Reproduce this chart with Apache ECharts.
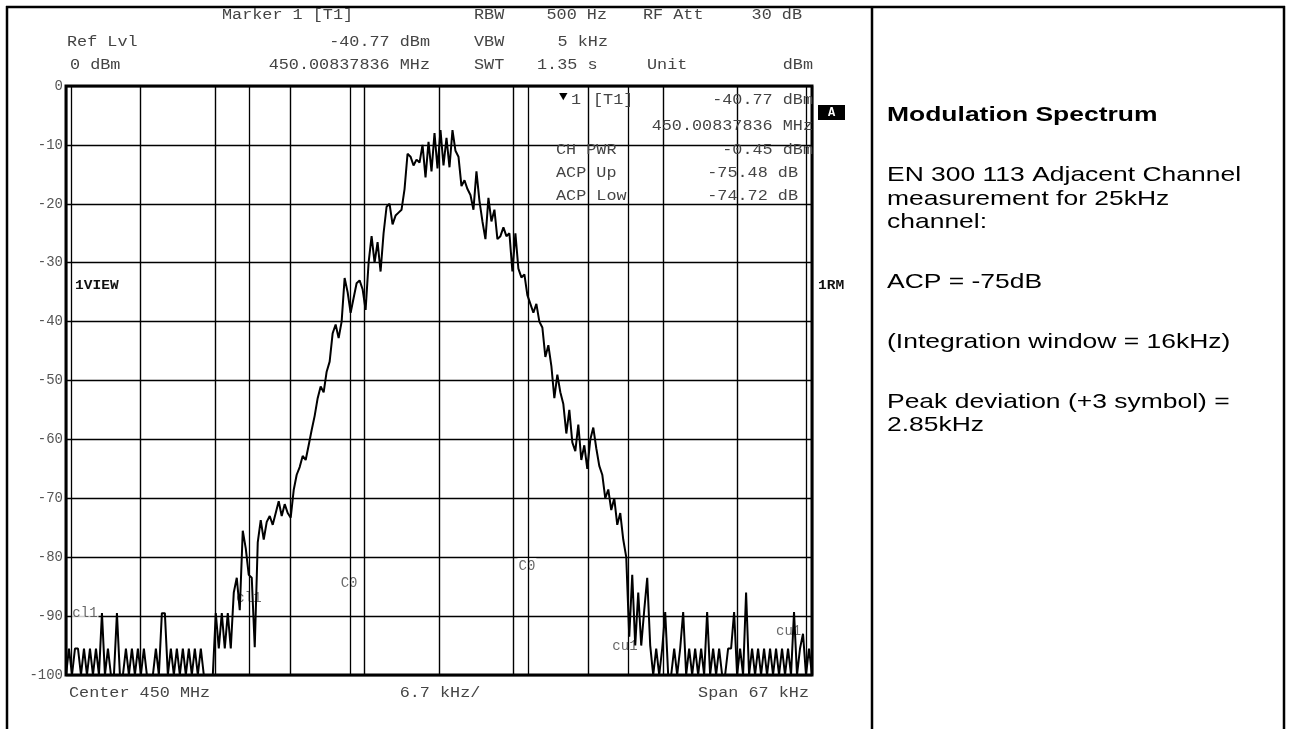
<!DOCTYPE html>
<html>
<head>
<meta charset="utf-8">
<script src="https://cdn.jsdelivr.net/npm/echarts@6/dist/echarts.min.js"></script>
<style>
  html, body { margin: 0; padding: 0; background: #fff; }
  #chart { width: 1290px; height: 729px; }
</style>
</head>
<body>
<div id="chart"></div>
<script>
// sweep of the analyser: 250 points over a 67 kHz span around 450 MHz (offsets in kHz)
const sweepStart = -33.5;
const sweepSpan = 67;
const levels = [
  -100, -95.5, -100, -95.5, -95.5, -100, -95.5, -100, -95.5, -100,
  -95.5, -100, -89.5, -100, -95.5, -100, -100, -89.5, -100, -100,
  -95.5, -100, -95.5, -100, -95.5, -100, -95.5, -100, -100, -100,
  -95.5, -100, -89.5, -89.5, -100, -95.5, -100, -95.5, -100, -95.5,
  -100, -95.5, -100, -95.5, -100, -95.5, -100, -100, -100, -100,
  -89.5, -95.5, -89.5, -95.5, -89.5, -95.5, -86, -83.5, -89, -75.5,
  -78.5, -83, -83.5, -95.3, -77.5, -73.7, -77, -74, -73, -74.5,
  -72.5, -70.5, -73, -71, -72.5, -73.3, -68.6, -66, -64.7, -62.8,
  -63.5, -61, -58.4, -56, -53, -51, -52, -48.5, -46.8, -42,
  -40.5, -42.8, -40, -32.6, -35, -38.5, -36, -33.5, -33, -34.5,
  -38, -30, -25.5, -30, -26.5, -31.5, -25, -20.5, -20, -23.5,
  -22, -21.5, -21, -17.5, -11.5, -12, -13.5, -12.5, -13, -10,
  -15.5, -9.5, -14.5, -8, -14, -7.5, -13.5, -8.8, -13.8, -7.5,
  -11, -12, -17, -16, -17.5, -18.5, -21, -14.5, -19.5, -23,
  -26, -19, -23, -21, -26, -25.5, -24, -25.5, -25, -31.5,
  -25, -31, -32.5, -32, -35.5, -37, -38.5, -37, -40, -41,
  -46, -44, -47.5, -53, -49, -52, -54, -59, -55, -60.5,
  -62, -57.5, -63.5, -61, -65, -60, -58, -61.5, -64.5, -66,
  -70, -68.5, -72, -70, -74.5, -72.5, -77, -80, -93.5, -83,
  -95, -86, -95, -89, -83.5, -95, -100, -95.5, -100, -95.5,
  -89.3, -100, -100, -95.5, -100, -95.5, -89.3, -100, -95.5, -100,
  -95.5, -100, -95.5, -100, -89.3, -100, -95.5, -100, -95.5, -100,
  -100, -95.5, -95.5, -89.3, -100, -95.5, -100, -86, -100, -95.5,
  -100, -95.5, -100, -95.5, -100, -95.5, -100, -95.5, -100, -95.5,
  -100, -95.5, -100, -89.3, -100, -95.5, -93, -100, -95.5, -100
];

// ACP channel limits (kHz): lower adjacent, main, upper adjacent
const channelEdges = [-33, -17, -8, 8, 17, 33];
const channelTags = [
  [-31.8, -89.6, 'cl1'], [-17.07, -86.9, 'cl1'],
  [-8.08, -84.4, 'C0'], [7.9, -81.5, 'C0'],
  [16.7, -95.2, 'cu1'], [31.4, -92.5, 'cu1']
];

const levelMin = -100, levelMax = 0, levelStep = 10;
const divStep = 6.7;

const trace = levels.map((v, i) => [sweepStart + i * sweepSpan / (levels.length - 1), v]);

const MONO = '"Liberation Mono", "DejaVu Sans Mono", monospace';
const SANS = '"Liberation Sans", Arial, sans-serif';

// helper for instrument style text (slightly stretched like the screen dump)
function txt(x, y, s, align, opts) {
  opts = opts || {};
  return {
    type: 'text', x: x, y: y, z: 10,
    scaleX: opts.sx || 1.2,
    style: {
      text: s,
      font: opts.font || ('14px ' + MONO),
      fill: opts.fill || '#444',
      textAlign: align, align: align,
      textVerticalAlign: 'middle', verticalAlign: 'middle'
    }
  };
}
function line(x1, y1, x2, y2, w) {
  return { type: 'line', z: 10, shape: { x1, y1, x2, y2 }, style: { stroke: '#000', lineWidth: w || 2 } };
}
const note = (y, s, bold) =>
  txt(887, y, s, 'left', { fill: '#000', font: (bold ? 'bold ' : '') + '21px ' + SANS, sx: 1.26 });

const chart = echarts.init(document.getElementById('chart'));

const graphics = [
  // table frame
  line(6, 7, 1285, 7, 2.5),
  line(7, 6, 7, 729, 2.5),
  line(872, 6, 872, 729, 2.5),
  line(1284, 6, 1284, 729, 2.5),

  // header
  txt(222, 15, 'Marker 1 [T1]', 'left'),
  txt(474, 15, 'RBW', 'left'),
  txt(607, 15, '500 Hz', 'right'),
  txt(643, 15, 'RF Att', 'left'),
  txt(802, 15, '30 dB', 'right'),
  txt(67, 42, 'Ref Lvl', 'left'),
  txt(430, 42, '-40.77 dBm', 'right'),
  txt(474, 42, 'VBW', 'left'),
  txt(608, 42, '5 kHz', 'right'),
  txt(70, 65, '0 dBm', 'left'),
  txt(430, 65, '450.00837836 MHz', 'right'),
  txt(474, 65, 'SWT', 'left'),
  txt(537, 65, '1.35 s', 'left'),
  txt(647, 65, 'Unit', 'left'),
  txt(813, 65, 'dBm', 'right'),

  // marker box
  txt(559, 97, '\u25BC', 'left', { fill: '#000', font: '13px ' + MONO, sx: 1.1 }),
  txt(571, 100, '1', 'left'),
  txt(593, 100, '[T1]', 'left'),
  txt(813, 100, '-40.77 dBm', 'right'),
  txt(813, 126, '450.00837836 MHz', 'right'),
  txt(556, 150, 'CH PWR', 'left'),
  txt(813, 150, '-0.45 dBm', 'right'),
  txt(556, 173, 'ACP Up', 'left'),
  txt(798, 173, '-75.48 dB', 'right'),
  txt(556, 196, 'ACP Low', 'left'),
  txt(798, 196, '-74.72 dB', 'right'),

  // side tags
  { type: 'rect', z: 10, shape: { x: 818, y: 105, width: 27, height: 15 }, style: { fill: '#000' } },
  txt(831.5, 113, 'A', 'center', { fill: '#fff', font: 'bold 12px ' + MONO, sx: 1 }),
  txt(75, 286, '1VIEW', 'left', { fill: '#111', font: 'bold 13px ' + MONO, sx: 1.12 }),
  txt(818, 286, '1RM', 'left', { fill: '#111', font: 'bold 13px ' + MONO, sx: 1.12 }),

  // footer
  txt(69, 693, 'Center 450 MHz', 'left'),
  txt(440, 693, '6.7 kHz/', 'center'),
  txt(809, 693, 'Span 67 kHz', 'right'),

  // notes panel
  note(115, 'Modulation Spectrum', true),
  note(175, 'EN 300 113 Adjacent Channel'),
  note(199, 'measurement for 25kHz'),
  note(222, 'channel:'),
  note(282, 'ACP = -75dB'),
  note(342, '(Integration window = 16kHz)'),
  note(402, 'Peak deviation (+3 symbol) ='),
  note(425, '2.85kHz')
];

const option = {
  animation: false,
  backgroundColor: '#fff',
  grid: { left: 66, top: 86, right: 478, bottom: 54, show: true, borderColor: '#000', borderWidth: 3, backgroundColor: 'transparent' },
  xAxis: {
    type: 'value', min: sweepStart, max: sweepStart + sweepSpan, interval: divStep,
    axisLabel: { show: false }, axisLine: { show: false }, axisTick: { show: false },
    splitLine: { show: true, lineStyle: { color: '#000', width: 1.4 } }
  },
  yAxis: {
    type: 'value', min: levelMin, max: levelMax, interval: levelStep,
    axisLine: { show: false }, axisTick: { show: false },
    axisLabel: { color: '#555', fontFamily: MONO, fontSize: 14, margin: 3 },
    splitLine: { show: true, lineStyle: { color: '#000', width: 1.4 } }
  },
  series: [
    {
      name: 'channels', type: 'scatter', z: 1,
      symbolSize: 1, itemStyle: { color: 'rgba(0,0,0,0)' },
      data: channelTags,
      label: {
        show: true, position: 'inside', formatter: p => p.value[2],
        color: '#444', fontFamily: MONO, fontSize: 14,
        backgroundColor: '#fff', padding: [1, 1]
      },
      markLine: {
        silent: true, symbol: 'none', label: { show: false },
        lineStyle: { color: '#000', width: 1.3, type: 'solid' },
        data: channelEdges.map(f => ({ xAxis: f }))
      }
    },
    {
      name: 'Trace 1', type: 'line', z: 3,
      data: trace, showSymbol: false, symbol: 'none',
      lineStyle: { color: '#000', width: 2 }
    }
  ],
  graphic: graphics
};

chart.setOption(option);
</script>
</body>
</html>
